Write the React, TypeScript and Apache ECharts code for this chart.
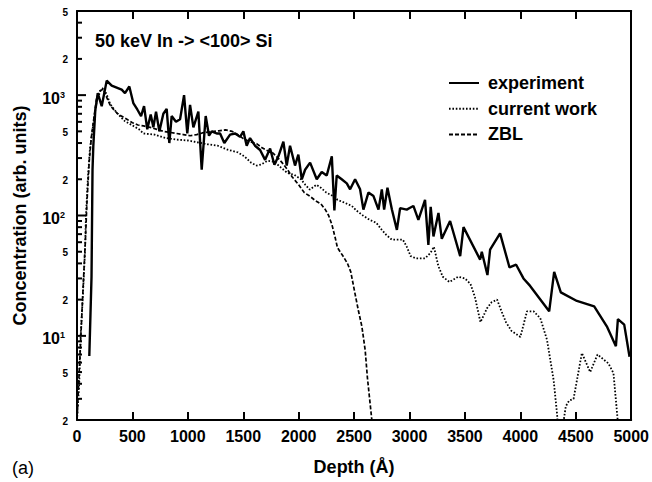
import React, { useEffect, useRef } from "react";
import * as echarts from "echarts";

const FONT = "'Liberation Sans', Arial, Helvetica, sans-serif";

const seriesNames = ["experiment", "current work", "ZBL"];

const experiment: [number, number][] = [
  [111, 6.8], [131, 31], [140, 240], [147, 375], [165, 750], [177, 880], [187, 1040], [223, 810],
  [268, 1320], [313, 1200], [403, 1110], [433, 1040], [472, 1180], [508, 860], [544, 760],
  [578, 670], [605, 810], [634, 520], [665, 690], [689, 540], [713, 730], [743, 500], [779, 700],
  [809, 770], [833, 400], [854, 670], [893, 600], [930, 630], [966, 1000], [995, 480], [1020, 830],
  [1050, 540], [1095, 730], [1125, 240], [1161, 670], [1191, 460], [1215, 500], [1260, 480],
  [1291, 480], [1329, 400], [1381, 470], [1426, 480], [1471, 450], [1501, 500], [1531, 380],
  [1561, 440], [1606, 380], [1652, 350], [1697, 290], [1742, 360], [1781, 264], [1817, 310],
  [1862, 410], [1892, 260], [1922, 380], [1967, 260], [1997, 320], [2028, 200], [2058, 240],
  [2103, 275], [2163, 200], [2208, 230], [2253, 215], [2299, 310], [2322, 110], [2343, 215],
  [2388, 200], [2434, 185], [2464, 165], [2509, 200], [2554, 165], [2584, 112], [2629, 155],
  [2675, 145], [2720, 112], [2750, 165], [2771, 112], [2801, 170], [2841, 112], [2886, 76],
  [2915, 115], [2975, 112], [3005, 116], [3035, 120], [3080, 92], [3140, 135], [3170, 57],
  [3191, 118], [3216, 67], [3261, 105], [3291, 64], [3366, 90], [3457, 46], [3487, 80],
  [3637, 43], [3652, 50], [3703, 32], [3727, 52], [3817, 71], [3902, 37], [3962, 39],
  [4028, 30], [4088, 26], [4260, 16], [4305, 34], [4365, 23], [4510, 19.5], [4666, 17.6],
  [4780, 12], [4862, 8.2], [4880, 13.8], [4937, 12.4], [4985, 6.7],
];

const currentWork: [number, number][] = [
  [0, 2], [20, 4], [33, 10], [51, 20], [72, 50], [81, 100], [99, 210], [117, 360], [153, 630],
  [178, 900], [214, 1100], [240, 1150], [270, 1000], [300, 840], [360, 710], [430, 610],
  [500, 560], [560, 520], [600, 480], [700, 470], [800, 440], [900, 427], [1000, 420],
  [1060, 410], [1180, 390], [1270, 380], [1360, 352], [1450, 335], [1510, 310], [1570, 275],
  [1620, 260], [1660, 265], [1720, 285], [1780, 280], [1840, 250], [1900, 225], [1960, 218],
  [2020, 200], [2060, 180], [2100, 164], [2160, 180], [2200, 170], [2250, 155], [2310, 145],
  [2350, 135], [2420, 127], [2480, 120], [2520, 110], [2580, 100], [2640, 92], [2700, 87],
  [2750, 76], [2790, 69], [2840, 63], [2880, 63], [2940, 63], [2975, 55], [3010, 46],
  [3060, 44], [3140, 44], [3190, 49], [3220, 55], [3260, 38], [3300, 31], [3360, 28],
  [3440, 31], [3500, 30], [3550, 27], [3590, 21], [3640, 13], [3700, 17], [3740, 19],
  [3790, 20], [3830, 16], [3870, 13], [3920, 11], [4000, 9.8], [4060, 16], [4120, 16],
  [4180, 14], [4240, 9.3], [4300, 4.3], [4330, 2.3], [4345, 1.5], [4380, 1.7], [4410, 2.6],
  [4440, 2.9], [4480, 3.0], [4555, 7.2], [4630, 5.0], [4696, 7.0], [4795, 5.9], [4840, 4.9],
  [4876, 2.1], [4895, 1.2],
];

const zbl: [number, number][] = [
  [0, 2], [30, 8], [55, 25], [75, 60], [90, 130], [110, 280], [130, 450], [150, 620],
  [177, 950], [205, 1080], [237, 1120], [270, 950], [300, 820], [330, 760], [360, 710],
  [400, 670], [450, 630], [500, 590], [550, 565], [600, 555], [660, 540], [720, 520],
  [780, 500], [840, 490], [900, 480], [960, 470], [1020, 460], [1080, 470], [1130, 485],
  [1200, 495], [1280, 505], [1340, 515], [1400, 500], [1450, 470], [1500, 435], [1560, 410],
  [1620, 395], [1670, 365], [1720, 345], [1760, 335], [1800, 310], [1850, 275], [1900, 240],
  [1940, 210], [2000, 180], [2050, 155], [2100, 145], [2150, 133], [2200, 125], [2240, 112],
  [2270, 100], [2300, 84], [2330, 65], [2350, 54], [2400, 46], [2440, 40], [2470, 34],
  [2510, 22], [2540, 16], [2570, 12], [2600, 7.6], [2620, 4.5], [2640, 3], [2660, 2], [2680, 1.5],
];

const yDecadeTicks = [10, 100, 1000];
const yDecadeExp = ["1", "2", "3"];
const yLabelTicks = [2, 5, 20, 50, 200, 500, 2000, 5000];
const yLabelTexts = ["2", "5", "2", "5", "2", "5", "2", "5"];
const yMinorTicks = [3, 4, 6, 7, 8, 9, 30, 40, 60, 70, 80, 90, 300, 400, 600, 700, 800, 900, 3000, 4000];

const annotation = "50 keV In -> <100> Si";
const panelLabel = "(a)";

export default function App() {
  const ref = useRef<HTMLDivElement>(null);
  useEffect(() => {
    if (!ref.current) return;
    const chart = echarts.init(ref.current, null, { renderer: "svg" });
    const axisLine = { show: true, onZero: false, lineStyle: { color: "#000", width: 2 } };
    const option: any = {
      animation: false,
      backgroundColor: "#fff",
      color: ["#000", "#000", "#000"],
      grid: { left: 77, right: 20, top: 11, bottom: 62, containLabel: false },
      xAxis: [
        {
          type: "value", min: 0, max: 5000, interval: 500, position: "bottom",
          axisLine,
          axisTick: { show: true, inside: true, length: 8, lineStyle: { color: "#000", width: 2 } },
          axisLabel: {
            color: "#000", fontSize: 16, fontWeight: "bold", fontFamily: FONT, margin: 8,
            formatter: (v: number) => String(v),
          },
          splitLine: { show: false },
          name: "Depth (Å)", nameLocation: "middle", nameGap: 38,
          nameTextStyle: { color: "#000", fontSize: 18, fontWeight: "bold", fontFamily: FONT },
        },
        {
          type: "value", min: 0, max: 5000, interval: 500, position: "top",
          axisLine,
          axisTick: { show: true, inside: true, length: 8, lineStyle: { color: "#000", width: 2 } },
          axisLabel: { show: false },
          splitLine: { show: false },
        },
      ],
      yAxis: [
        {
          type: "log", logBase: 10, min: 2, max: 5000, position: "left",
          axisLine,
          axisTick: { show: false }, axisLabel: { show: false }, splitLine: { show: false },
          name: "Concentration (arb. units)", nameLocation: "middle", nameGap: 48,
          nameTextStyle: { color: "#000", fontSize: 18, fontWeight: "bold", fontFamily: FONT },
        },
        {
          type: "log", logBase: 10, min: 2, max: 5000, position: "right",
          axisLine,
          axisTick: { show: false }, axisLabel: { show: false }, splitLine: { show: false },
        },
      ],
      legend: {
        orient: "vertical", left: 443, top: 69, itemWidth: 30, itemHeight: 14, itemGap: 7.7,
        data: seriesNames,
        itemStyle: { opacity: 0 },
        textStyle: { color: "#000", fontSize: 18, fontWeight: "bold", fontFamily: FONT, padding: [0, 0, 0, 4], lineHeight: 14 },
      },
      series: [
        {
          name: seriesNames[2], type: "line", data: zbl, symbol: "none", clip: true, z: 2,
          itemStyle: { color: "#000" },
          lineStyle: { color: "#000", width: 1.7, type: [4, 2] },
        },
        {
          name: seriesNames[1], type: "line", data: currentWork, symbol: "none", clip: true, z: 3,
          itemStyle: { color: "#000" },
          lineStyle: { color: "#000", width: 1.8, type: [1.6, 1.8] },
        },
        {
          name: seriesNames[0], type: "line", data: experiment, symbol: "none", clip: true, z: 4,
          itemStyle: { color: "#000" },
          lineStyle: { color: "#000", width: 2.4, type: "solid" },
        },
      ],
    };
    chart.setOption(option);

    const x0 = chart.convertToPixel({ xAxisIndex: 0 }, 0) as number;
    const elements: any[] = [];
    const tick = (v: number, len: number) => {
      const y = chart.convertToPixel({ yAxisIndex: 0 }, v) as number;
      elements.push({
        type: "line", silent: true,
        shape: { x1: x0, y1: y, x2: x0 + len, y2: y },
        style: { stroke: "#000", lineWidth: 2 },
      });
      return y;
    };
    yDecadeTicks.forEach((v, i) => {
      const y = tick(v, 9);
      elements.push({
        type: "text", silent: true, x: x0 - 12, y: y + 3,
        style: {
          text: "{a|10}{b|" + yDecadeExp[i] + "}",
          align: "right", verticalAlign: "middle", textAlign: "right", textVerticalAlign: "middle",
          fill: "#000",
          rich: {
            a: { fontSize: 16, fontWeight: "bold", fontFamily: FONT, fill: "#000", lineHeight: 16 },
            b: { fontSize: 9, fontWeight: "bold", fontFamily: FONT, fill: "#000", verticalAlign: "top", lineHeight: 10 },
          },
        },
      });
    });
    yLabelTicks.forEach((v, i) => {
      const y = tick(v, 5);
      elements.push({
        type: "text", silent: true, x: x0 - 9, y: y + 1,
        style: {
          text: yLabelTexts[i], fill: "#000",
          font: "bold 10px " + FONT,
          align: "right", verticalAlign: "middle", textAlign: "right", textVerticalAlign: "middle",
        },
      });
    });
    yMinorTicks.forEach((v) => tick(v, 5));

    elements.push({
      type: "text", silent: true, x: 95, y: 41,
      style: {
        text: annotation, fill: "#000", font: "bold 18px " + FONT,
        align: "left", verticalAlign: "middle", textAlign: "left", textVerticalAlign: "middle",
      },
    });
    elements.push({
      type: "text", silent: true, x: 12, y: 468,
      style: {
        text: panelLabel, fill: "#000", font: "18px " + FONT,
        align: "left", verticalAlign: "middle", textAlign: "left", textVerticalAlign: "middle",
      },
    });
    chart.setOption({ graphic: { elements } });

    return () => chart.dispose();
  }, []);
  return (
    <div
      ref={ref}
      style={{ position: "fixed", left: 0, top: 0, width: 652, height: 482, background: "#fff" }}
    />
  );
}
